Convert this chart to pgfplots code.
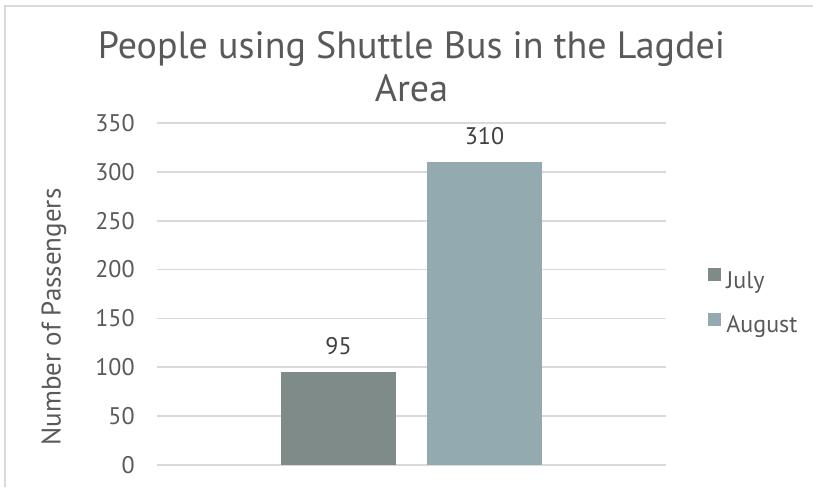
\documentclass[border=0pt]{standalone}
\usepackage{pgfplots}
\pgfplotsset{compat=1.18}
\usepackage{fontspec}
\setmainfont{PT Sans}
\definecolor{julyc}{HTML}{7E8B88}
\definecolor{augc}{HTML}{93AAB0}
\definecolor{gridc}{HTML}{D9D9D9}
\definecolor{txt}{HTML}{595959}
\definecolor{lbl}{HTML}{404040}
\pgfplotsset{sqlegend/.style={legend image code/.code={\fill[##1] (0pt,0.3pt) rectangle (6.5pt,6.8pt);}}}

\begin{document}
\begin{tikzpicture}
\useasboundingbox (0,0) rectangle (406.5pt,243.5pt);
% chart frame (only top and left edges are visible)
\draw[gridc, line width=1pt] (2.5pt,0) -- (2.5pt,240.5pt) -- (406.5pt,240.5pt);
\begin{axis}[
    at={(78.5pt,11pt)}, anchor=south west,
    scale only axis, width=254.5pt, height=171pt,
    ybar=15.5pt, bar width=57.5pt,
    xmin=-1, xmax=1, ymin=0, ymax=350,
    xtick=\empty, ytick={0,50,...,350},
    ymajorgrids, grid style={gridc, line width=0.9pt},
    axis line style={draw=none}, major tick length=0pt,
    /pgf/number format/assume math mode=true,
    tick label style={font=\fontsize{12}{14}\selectfont, color=txt},
    yticklabel style={anchor=east, inner sep=0pt, xshift=-11pt},
    ylabel={Number of Passengers},
    ylabel style={at={(axis description cs:-0.2024,0.433)}, anchor=center,
        font=\fontsize{13.5}{16}\selectfont, color=txt},
    title={People using Shuttle Bus in the Lagdei\\Area},
    title style={at={(axis description cs:0.5,1.234)}, anchor=north, inner sep=0pt,
        align=center, font=\fontsize{19}{21.5}\selectfont, color=txt},
    legend style={at={(axis description cs:1.0825,0.472)}, anchor=west,
        draw=none, fill=none, inner sep=0pt, row sep=9.5pt,
        font=\fontsize{12}{14}\selectfont, text=txt,
        nodes={inner sep=0pt, text height=9pt, text depth=3pt},
        /tikz/every odd column/.append style={column sep=2.5pt}},
    legend cell align=left,
    nodes near coords,
    every node near coord/.append style={font=\fontsize{12}{14}\selectfont,
        color=lbl, anchor=south, inner sep=0pt, yshift=8.5pt},
]
\addplot[fill=julyc, draw=none, sqlegend] coordinates {(0,95)};
\addplot[fill=augc, draw=none, sqlegend] coordinates {(0,310)};
\legend{July, August}
\end{axis}
\end{tikzpicture}
\end{document}
